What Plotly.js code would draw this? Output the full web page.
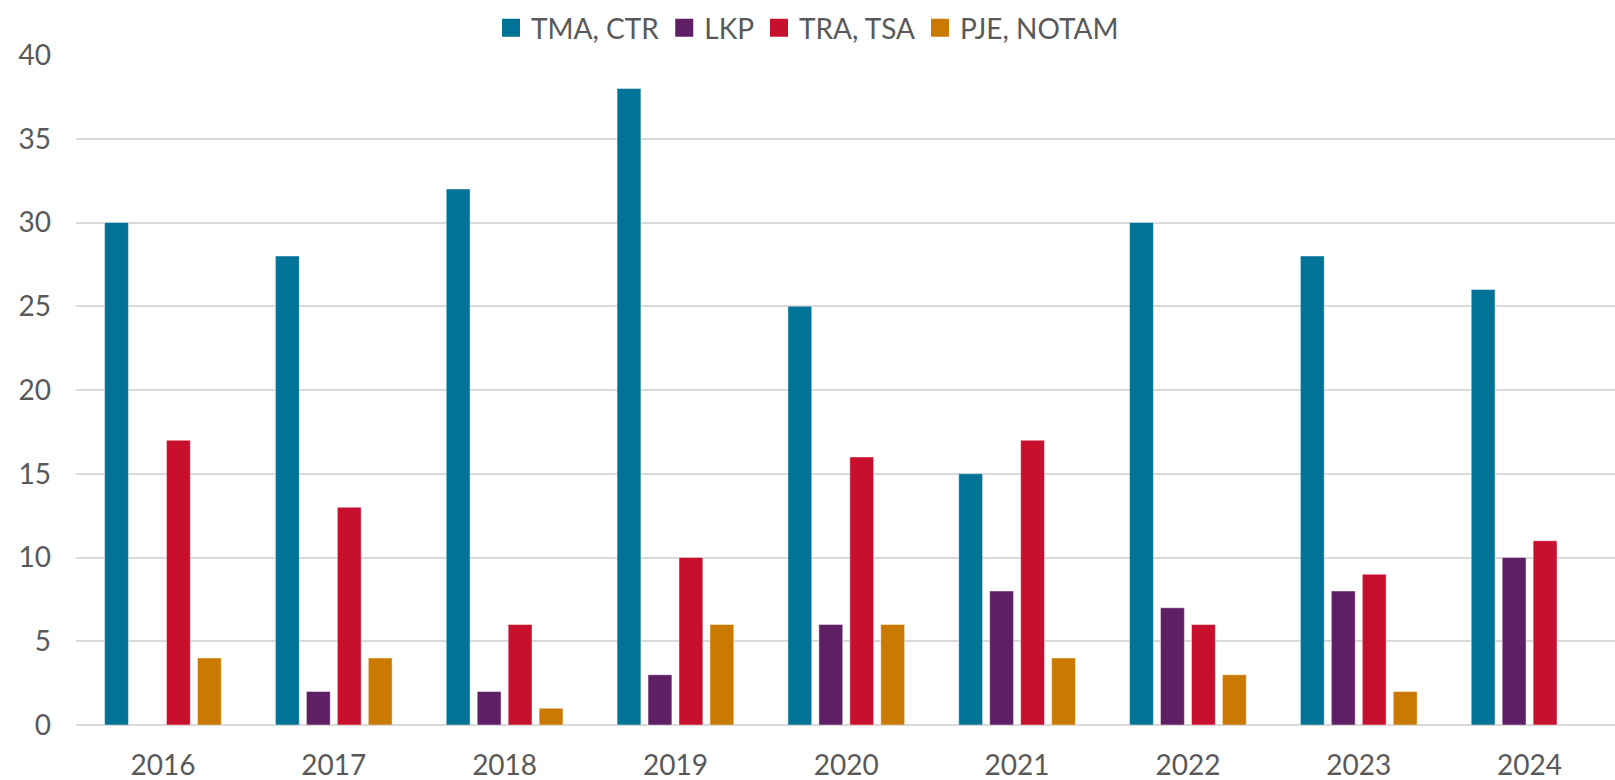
<!DOCTYPE html>
<html>
<head>
<meta charset="utf-8">
<script src="https://cdn.plot.ly/plotly-3.0.1.min.js"></script>
<style>html,body{margin:0;padding:0;background:#fff}#chart{width:1615px;height:780px}</style>
</head>
<body>
<div id="chart"></div>
<script>
const years = ["2016","2017","2018","2019","2020","2021","2022","2023","2024"];
const tmaCtr = [30, 28, 32, 38, 25, 15, 30, 28, 26];
const lkp = [null, 2, 2, 3, 6, 8, 7, 8, 10];
const traTsa = [17, 13, 6, 10, 16, 17, 6, 9, 11];
const pjeNotam = [4, 4, 1, 6, 6, 4, 3, 2, null];
const seriesNames = ["TMA, CTR", "LKP", "TRA, TSA", "PJE, NOTAM"];
const seriesColors = ["#007396", "#5E1F64", "#C8102E", "#CA7A00"];
const seriesValues = [tmaCtr, lkp, traTsa, pjeNotam];

const barTraces = seriesValues.map((vals, i) => ({
  type: "bar",
  name: seriesNames[i],
  legendgroup: seriesNames[i],
  showlegend: false,
  x: years,
  y: vals,
  marker: {color: seriesColors[i], line: {color: "rgba(255,255,255,0.45)", width: 1}},
  hoverinfo: "x+y+name"
}));

// legend-only entries (larger square swatches, as in the reference)
const legendTraces = seriesNames.map((name, i) => ({
  type: "scatter",
  mode: "markers",
  name: name,
  legendgroup: name,
  showlegend: true,
  x: [years[0]],
  y: [null],
  marker: {symbol: "square", size: 16, color: seriesColors[i], line: {color: seriesColors[i], width: 2}},
  hoverinfo: "skip"
}));

const font = "Lato, 'Open Sans', sans-serif";
const layout = {
  width: 1615, height: 780,
  margin: {l: 76, r: 0, t: 55, b: 55},
  paper_bgcolor: "#fff", plot_bgcolor: "#fff",
  font: {family: font, color: "#595959"},
  barmode: "group",
  bargap: 0.275,
  bargroupgap: 0.23,
  showlegend: true,
  legend: {
    orientation: "h", xref: "container", yref: "container",
    x: 0.5, xanchor: "center", y: 0.996, yanchor: "top",
    font: {family: font, size: 28, color: "#595959"},
    itemsizing: "trace",
    traceorder: "normal"
  },
  xaxis: {
    type: "category",
    showgrid: false, showline: false, zeroline: false,
    ticks: "", tickfont: {family: font, size: 28, color: "#595959"},
    ticklabelstandoff: 21
  },
  yaxis: {
    range: [0, 40], dtick: 5, tick0: 0,
    showgrid: true, gridcolor: "#D9D9D9", gridwidth: 2,
    zeroline: true, zerolinecolor: "#D9D9D9", zerolinewidth: 2,
    showline: false, ticks: "",
    tickfont: {family: font, size: 28, color: "#595959"},
    ticklabelstandoff: 24
  }
};

Plotly.newPlot("chart", barTraces.concat(legendTraces), layout, {displayModeBar: false, staticPlot: true});
</script>
</body>
</html>
